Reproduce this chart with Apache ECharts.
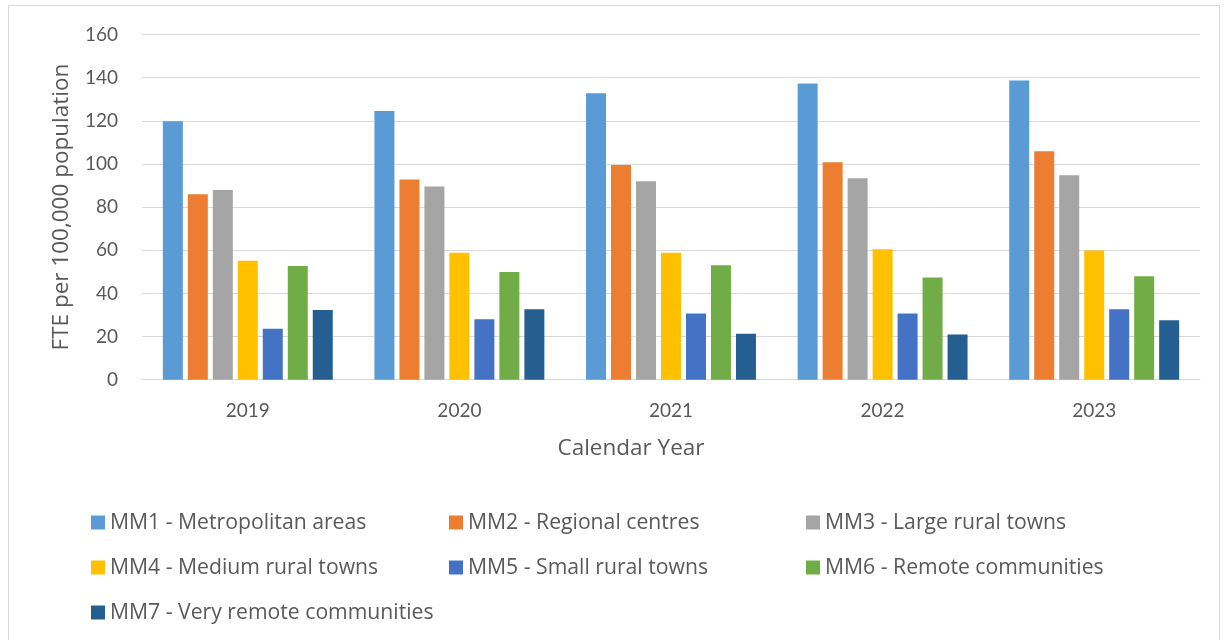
<!DOCTYPE html>
<html>
<head>
<meta charset="utf-8">
<script src="https://cdn.jsdelivr.net/npm/echarts@6/dist/echarts.min.js"></script>
<style>
  html, body { margin: 0; padding: 0; background: #fff; }
  #frame { position: absolute; left: 8px; top: 5px; width: 1212px; height: 660px; border: 1px solid #d9d9d9; box-sizing: border-box; }
  #chart { position: absolute; left: 0; top: 0; width: 1228px; height: 640px; }
</style>
</head>
<body>
<div id="frame"></div>
<div id="chart"></div>
<script>
const years = ['2019', '2020', '2021', '2022', '2023'];
const seriesNames = [
  'MM1 - Metropolitan areas',
  'MM2 - Regional centres',
  'MM3 - Large rural towns',
  'MM4 - Medium rural towns',
  'MM5 - Small rural towns',
  'MM6 - Remote communities',
  'MM7 - Very remote communities'
];
const mm1 = [119.8, 124.6, 132.8, 137.3, 138.7];
const mm2 = [85.9, 92.8, 99.5, 100.8, 105.9];
const mm3 = [87.9, 89.6, 92.0, 93.4, 94.8];
const mm4 = [55.1, 58.8, 58.8, 60.5, 59.9];
const mm5 = [23.6, 28.0, 30.7, 30.7, 32.6];
const mm6 = [52.7, 49.9, 53.1, 47.4, 48.0];
const mm7 = [32.3, 32.7, 21.3, 21.0, 27.5];
const yTicks = [0, 20, 40, 60, 80, 100, 120, 140, 160];
const yTitle = 'FTE per 100,000 population';
const xTitle = 'Calendar Year';

const allValues = [mm1, mm2, mm3, mm4, mm5, mm6, mm7];
const colors = ['#5B9BD5', '#ED7D31', '#A5A5A5', '#FFC000', '#4472C4', '#70AD47', '#255E91'];
const tickFont = 'Lato, "Open Sans", sans-serif';
const textFont = '"Open Sans", Lato, sans-serif';
const textColor = '#595959';

const legendPos = [
  [91, 512], [449, 512], [806, 512],
  [91, 557], [449, 557], [806, 557],
  [91, 602]
];

const chart = echarts.init(document.getElementById('chart'), null, { renderer: 'canvas' });
chart.setOption({
  animation: false,
  backgroundColor: 'transparent',
  grid: { left: 142, right: 28, top: 34.5, bottom: 260.3, containLabel: false },
  xAxis: {
    type: 'category',
    data: years,
    axisLine: { show: true, lineStyle: { color: '#d9d9d9', width: 1 } },
    axisTick: { show: false },
    axisLabel: { color: textColor, fontSize: 19, fontFamily: tickFont, margin: 22 }
  },
  yAxis: {
    type: 'value',
    min: yTicks[0],
    max: yTicks[yTicks.length - 1],
    interval: yTicks[1] - yTicks[0],
    name: yTitle,
    nameLocation: 'middle',
    nameGap: 69,
    nameTextStyle: { color: textColor, fontSize: 22.5, fontFamily: textFont },
    axisLine: { show: false },
    axisTick: { show: false },
    axisLabel: { color: textColor, fontSize: 19, fontFamily: tickFont, margin: 24 },
    splitLine: { show: true, lineStyle: { color: '#d9d9d9', width: 1 } }
  },
  legend: seriesNames.map((n, i) => ({
    data: [n],
    left: legendPos[i][0],
    top: legendPos[i][1],
    padding: 0,
    itemWidth: 14,
    itemHeight: 14,
    itemGap: 0,
    icon: 'rect',
    selectedMode: false,
    textStyle: { color: textColor, fontSize: 21.2, fontFamily: textFont, padding: [0, 0, 0, 0] }
  })),
  graphic: [{
    type: 'text',
    style: { text: xTitle, fill: textColor, fontSize: 22.5, fontFamily: textFont, x: 631, y: 449, textAlign: 'center', textVerticalAlign: 'middle' }
  }],
  series: seriesNames.map((n, i) => ({
    name: n,
    type: 'bar',
    data: allValues[i],
    barGap: '25%',
    barCategoryGap: '19.7%',
    itemStyle: { color: colors[i] }
  }))
});
</script>
</body>
</html>
